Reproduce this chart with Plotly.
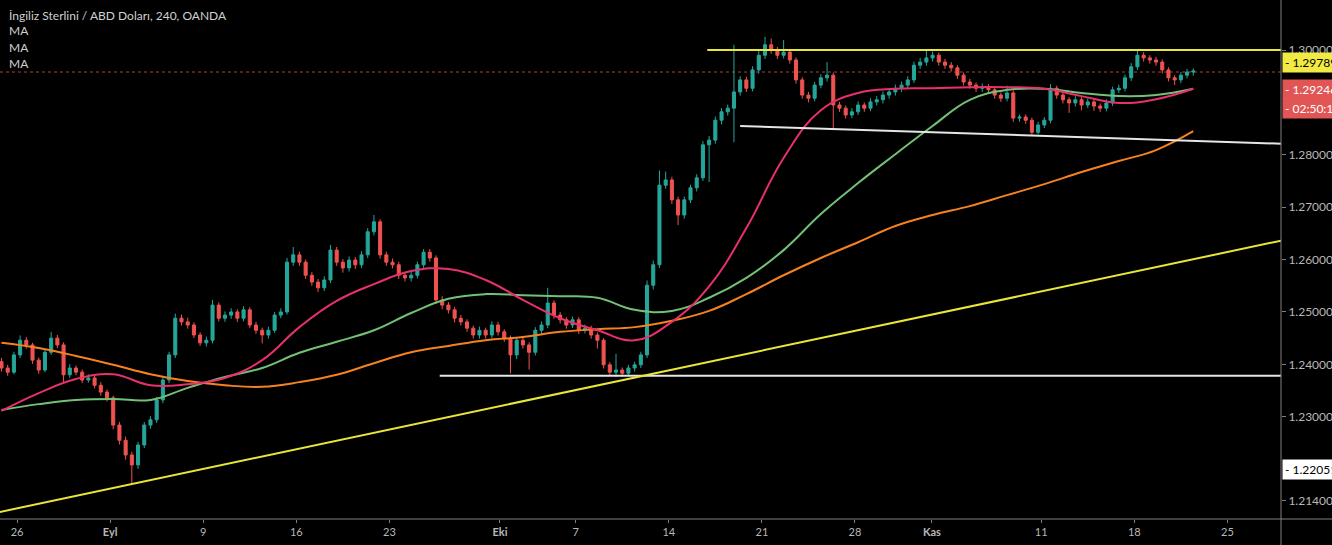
import plotly.graph_objects as go

# ---------------- DATA (GBP/USD, 240, OANDA) ----------------
OPEN = [1.2405,1.2393,1.2385,1.2418,1.2446,1.2437,1.2408,1.2389,1.2423,1.2450,
1.2437,1.2380,1.2393,1.2385,1.2370,1.2374,1.2360,1.2347,1.2336,1.2284,
1.2255,1.2227,1.2208,1.2246,1.2284,1.2294,1.2332,1.2370,1.2418,1.2488,
1.2481,1.2475,1.2456,1.2441,1.2446,1.2513,1.2488,1.2494,1.2500,1.2488,
1.2504,1.2475,1.2465,1.2456,1.2465,1.2494,1.2500,1.2595,1.2609,1.2595,
1.2570,1.2557,1.2546,1.2561,1.2618,1.2595,1.2584,1.2599,1.2590,1.2609,
1.2653,1.2672,1.2609,1.2595,1.2590,1.2570,1.2565,1.2570,1.2590,1.2614,
1.2603,1.2523,1.2513,1.2504,1.2488,1.2481,1.2469,1.2456,1.2465,1.2456,
1.2475,1.2462,1.2450,1.2418,1.2446,1.2437,1.2423,1.2465,1.2475,1.2517,
1.2494,1.2485,1.2475,1.2485,1.2465,1.2469,1.2456,1.2446,1.2399,1.2385,
1.2389,1.2383,1.2393,1.2399,1.2418,1.2551,1.2590,1.2742,1.2752,1.2714,
1.2685,1.2714,1.2737,1.2756,1.2819,1.2828,1.2866,1.2882,1.2889,1.2920,
1.2943,1.2927,1.2962,1.2990,1.3010,1.3000,1.2990,1.2996,1.2981,1.2943,
1.2914,1.2908,1.2933,1.2947,1.2952,1.2895,1.2889,1.2876,1.2882,1.2895,
1.2889,1.2901,1.2905,1.2914,1.2920,1.2927,1.2933,1.2943,1.2971,1.2977,
1.2985,1.2990,1.2977,1.2971,1.2966,1.2952,1.2939,1.2933,1.2927,1.2929,
1.2924,1.2914,1.2908,1.2918,1.2870,1.2872,1.2866,1.2843,1.2857,1.2866,
1.2927,1.2914,1.2905,1.2899,1.2905,1.2895,1.2901,1.2893,1.2889,1.2899,
1.2924,1.2927,1.2947,1.2968,1.2990,1.2985,1.2981,1.2977,1.2962,1.2947,
1.2943,1.2952,1.2958]

CLOSE = [1.2393,1.2385,1.2418,1.2446,1.2437,1.2408,1.2389,1.2423,1.2450,1.2437,
1.2380,1.2393,1.2385,1.2370,1.2374,1.2360,1.2347,1.2336,1.2284,1.2255,
1.2227,1.2208,1.2246,1.2284,1.2294,1.2332,1.2370,1.2418,1.2488,1.2481,
1.2475,1.2456,1.2441,1.2446,1.2513,1.2488,1.2494,1.2500,1.2488,1.2504,
1.2475,1.2465,1.2456,1.2465,1.2494,1.2500,1.2595,1.2609,1.2595,1.2570,
1.2557,1.2546,1.2561,1.2618,1.2595,1.2584,1.2599,1.2590,1.2609,1.2653,
1.2672,1.2609,1.2595,1.2590,1.2570,1.2565,1.2570,1.2590,1.2614,1.2603,
1.2523,1.2513,1.2504,1.2488,1.2481,1.2469,1.2456,1.2465,1.2456,1.2475,
1.2462,1.2450,1.2418,1.2446,1.2437,1.2423,1.2465,1.2475,1.2517,1.2494,
1.2485,1.2475,1.2485,1.2465,1.2469,1.2456,1.2446,1.2399,1.2385,1.2389,
1.2383,1.2393,1.2399,1.2418,1.2551,1.2590,1.2742,1.2752,1.2714,1.2685,
1.2714,1.2737,1.2756,1.2819,1.2828,1.2866,1.2882,1.2889,1.2920,1.2943,
1.2927,1.2962,1.2990,1.3010,1.3000,1.2990,1.2996,1.2981,1.2943,1.2914,
1.2908,1.2933,1.2947,1.2952,1.2895,1.2889,1.2876,1.2882,1.2895,1.2889,
1.2901,1.2905,1.2914,1.2920,1.2927,1.2933,1.2943,1.2971,1.2977,1.2985,
1.2990,1.2977,1.2971,1.2966,1.2952,1.2939,1.2933,1.2927,1.2929,1.2924,
1.2914,1.2908,1.2918,1.2870,1.2872,1.2866,1.2843,1.2857,1.2866,1.2927,
1.2914,1.2905,1.2899,1.2905,1.2895,1.2901,1.2893,1.2889,1.2899,1.2924,
1.2927,1.2947,1.2968,1.2990,1.2985,1.2981,1.2977,1.2962,1.2947,1.2943,
1.2952,1.2958,1.2960]

HIGH = [1.2412,1.2399,1.2424,1.2455,1.2452,1.2441,1.2413,1.2429,1.2462,1.2456,
1.2442,1.2400,1.2398,1.2390,1.2381,1.2379,1.2366,1.2352,1.2340,1.2290,
1.2262,1.2233,1.2252,1.2290,1.2301,1.2338,1.2376,1.2424,1.2497,1.2495,
1.2489,1.2480,1.2461,1.2453,1.2523,1.2518,1.2501,1.2507,1.2505,1.2511,
1.2509,1.2481,1.2470,1.2472,1.2500,1.2507,1.2603,1.2624,1.2615,1.2600,
1.2576,1.2563,1.2568,1.2628,1.2624,1.2601,1.2606,1.2605,1.2616,1.2660,
1.2685,1.2677,1.2615,1.2602,1.2596,1.2576,1.2577,1.2596,1.2620,1.2620,
1.2608,1.2530,1.2519,1.2510,1.2494,1.2486,1.2474,1.2472,1.2470,1.2482,
1.2481,1.2467,1.2455,1.2452,1.2451,1.2442,1.2471,1.2482,1.2546,1.2522,
1.2500,1.2490,1.2491,1.2490,1.2476,1.2474,1.2461,1.2450,1.2404,1.2420,
1.2394,1.2399,1.2405,1.2424,1.2560,1.2598,1.2770,1.2768,1.2758,1.2720,
1.2720,1.2743,1.2763,1.2826,1.2836,1.2873,1.2889,1.2896,1.3010,1.2950,
1.2949,1.2969,1.2998,1.3025,1.3022,1.3006,1.3019,1.3001,1.2986,1.2948,
1.2920,1.2939,1.2954,1.2977,1.2957,1.2901,1.2894,1.2889,1.2902,1.2900,
1.2908,1.2912,1.2921,1.2927,1.2934,1.2940,1.2950,1.2978,1.2985,1.2998,
1.2997,1.2995,1.2983,1.2977,1.2971,1.2957,1.2945,1.2938,1.2936,1.2935,
1.2929,1.2919,1.2932,1.2923,1.2877,1.2877,1.2871,1.2863,1.2872,1.2935,
1.2932,1.2920,1.2910,1.2912,1.2910,1.2908,1.2906,1.2898,1.2906,1.2930,
1.2934,1.2953,1.2975,1.3000,1.2996,1.2990,1.2987,1.2982,1.2967,1.2952,
1.2958,1.2964,1.2965]

LOW = [1.2386,1.2378,1.2381,1.2412,1.2430,1.2401,1.2382,1.2385,1.2418,1.2431,
1.2364,1.2374,1.2379,1.2364,1.2365,1.2354,1.2340,1.2329,1.2276,1.2247,
1.2218,1.2173,1.2200,1.2240,1.2277,1.2288,1.2326,1.2364,1.2412,1.2474,
1.2468,1.2450,1.2435,1.2434,1.2440,1.2482,1.2481,1.2487,1.2481,1.2482,
1.2469,1.2458,1.2440,1.2449,1.2460,1.2488,1.2495,1.2588,1.2588,1.2563,
1.2550,1.2538,1.2540,1.2555,1.2588,1.2575,1.2577,1.2582,1.2584,1.2603,
1.2646,1.2602,1.2588,1.2583,1.2563,1.2558,1.2558,1.2564,1.2584,1.2596,
1.2515,1.2505,1.2497,1.2480,1.2474,1.2462,1.2449,1.2449,1.2449,1.2450,
1.2455,1.2443,1.2383,1.2410,1.2430,1.2390,1.2417,1.2458,1.2469,1.2487,
1.2478,1.2468,1.2469,1.2458,1.2459,1.2449,1.2430,1.2392,1.2378,1.2376,
1.2377,1.2378,1.2386,1.2393,1.2412,1.2543,1.2584,1.2735,1.2706,1.2666,
1.2678,1.2708,1.2730,1.2750,1.2748,1.2821,1.2858,1.2875,1.2824,1.2913,
1.2920,1.2921,1.2955,1.2983,1.2993,1.2983,1.2984,1.2974,1.2936,1.2907,
1.2900,1.2902,1.2927,1.2940,1.2851,1.2882,1.2869,1.2870,1.2876,1.2882,
1.2883,1.2894,1.2898,1.2907,1.2913,1.2920,1.2926,1.2937,1.2964,1.2970,
1.2978,1.2970,1.2964,1.2959,1.2945,1.2932,1.2926,1.2920,1.2920,1.2917,
1.2907,1.2901,1.2902,1.2863,1.2863,1.2859,1.2838,1.2839,1.2851,1.2860,
1.2907,1.2898,1.2880,1.2892,1.2885,1.2889,1.2884,1.2882,1.2883,1.2893,
1.2918,1.2921,1.2941,1.2962,1.2978,1.2974,1.2970,1.2955,1.2940,1.2933,
1.2937,1.2946,1.2951]

# moving averages read at every 6th bar
MA_BAR = [0,6,12,18,24,30,36,42,48,54,60,66,72,78,84,90,96,102,108,114,120,
          126,132,138,144,150,156,162,168,174,180,186,192]
MA_PINK = [1.2311,1.2345,1.2372,1.2381,1.2360,1.2362,1.2374,1.2408,1.2471,1.2521,
           1.2553,1.2578,1.2582,1.2561,1.2523,1.2488,1.2465,1.2446,1.2481,1.2549,
           1.2660,1.2794,1.2885,1.2918,1.2926,1.2927,1.2929,1.2929,1.2926,1.2912,
           1.2899,1.2906,1.2926]
MA_GREEN = [1.2313,1.2324,1.2332,1.2334,1.2332,1.2355,1.2376,1.2393,1.2422,1.2443,
            1.2465,1.2498,1.2525,1.2534,1.2532,1.2530,1.2527,1.2504,1.2502,1.2527,
            1.2565,1.2618,1.2687,1.2746,1.2801,1.2855,1.2905,1.2924,1.2926,1.2918,
            1.2912,1.2914,1.2926]
MA_ORANGE = [1.2441,1.2431,1.2416,1.2399,1.2381,1.2368,1.2360,1.2357,1.2366,1.2380,
             1.2402,1.2423,1.2435,1.2446,1.2452,1.2462,1.2467,1.2471,1.2483,1.2502,
             1.2534,1.2570,1.2603,1.2633,1.2664,1.2685,1.2702,1.2723,1.2744,1.2767,
             1.2788,1.2809,1.2845]

# drawn lines: (bar0, price0, bar1, price1)
YELLOW_TOP = (113.7, 1.3000, 206.5, 1.3000)
WHITE_SLOPE = (119.0, 1.2855, 206.5, 1.2821)
WHITE_FLAT = (70.6, 1.2378, 206.5, 1.2378)
YELLOW_TREND = (-0.3, 1.2118, 206.5, 1.2637)

LAST_PRICE = 1.2958

X_TICK_POS = [2.5, 17.5, 32.5, 47.5, 62.5, 80.3, 92.5, 107.5, 122.5, 137.5, 149.9, 167.5, 182.5, 197.5]
X_TICK_TXT = ['26', '<b>Eyl</b>', '9', '16', '23', '<b>Eki</b>', '7', '14', '21', '28', '<b>Kas</b>', '11', '18', '25']
Y_TICK_POS = [1.31, 1.30, 1.28, 1.27, 1.26, 1.25, 1.24, 1.23, 1.214]
Y_TICK_TXT = ['1.31000', '1.30000', '1.28000', '1.27000', '1.26000', '1.25000', '1.24000', '1.23000', '1.21400']

# ---------------- FIGURE ----------------
W, H = 1332, 545
PW, PH = 1281, 519  # plot area in px
def xp(px):
    return px / PW
def yp(py):
    return 1 - py / PH

FONT = "Lato"
fig = go.Figure()
fig.add_trace(go.Candlestick(
    x=list(range(len(CLOSE))), open=OPEN, high=HIGH, low=LOW, close=CLOSE,
    increasing=dict(line=dict(color='#26a69a', width=1), fillcolor='#26a69a'),
    decreasing=dict(line=dict(color='#ef5350', width=1), fillcolor='#ef5350'),
    whiskerwidth=0, hoverinfo='skip', showlegend=False))

for vals, col in [(MA_ORANGE, '#f5821f'), (MA_GREEN, '#72c176'), (MA_PINK, '#e8306c')]:
    fig.add_trace(go.Scatter(x=MA_BAR, y=vals, mode='lines',
                             line=dict(color=col, width=2, shape='spline', smoothing=1.2),
                             hoverinfo='skip', showlegend=False))

shapes = []
for (x0, y0, x1, y1), col in [(YELLOW_TOP, '#e9e63a'), (WHITE_SLOPE, '#e6e6e6'),
                               (WHITE_FLAT, '#e6e6e6'), (YELLOW_TREND, '#e9e63a')]:
    shapes.append(dict(type='line', xref='x', yref='y', x0=x0, y0=y0, x1=x1, y1=y1,
                       line=dict(color=col, width=2), layer='above'))
# last price dotted line
shapes.append(dict(type='line', xref='paper', yref='y', x0=0, x1=1, y0=LAST_PRICE, y1=LAST_PRICE,
                   line=dict(color='#a8403a', width=1, dash='dot'), layer='below'))
# axis borders
shapes.append(dict(type='line', xref='paper', yref='paper', x0=0, x1=W / PW, y0=0, y1=0,
                   line=dict(color='#808080', width=1)))
shapes.append(dict(type='line', xref='paper', yref='paper', x0=1, x1=1, y0=-(H - PH) / PH, y1=1,
                   line=dict(color='#808080', width=1)))

ann = []
ann.append(dict(xref='paper', yref='paper', x=xp(7), y=yp(15), xanchor='left', yanchor='middle',
                text='İngiliz Sterlini / ABD Doları, 240, OANDA', showarrow=False,
                font=dict(family=FONT, size=12, color='#d0d0d0')))
for py in [31, 47, 63]:
    ann.append(dict(xref='paper', yref='paper', x=xp(7), y=yp(py), xanchor='left', yanchor='middle',
                    text='MA', showarrow=False, font=dict(family=FONT, size=12, color='#d0d0d0')))

def price_box(y, text, bg, fg):
    return dict(xref='paper', yref='y', x=1, y=y, xanchor='left', yanchor='middle', xshift=1,
                text='- ' + text, showarrow=False, bgcolor=bg, width=70, align='left', borderpad=2,
                font=dict(family=FONT, size=12, color=fg))

ann.append(price_box(1.2976, '1.29789', '#f2ea44', '#000000'))
ann.append(price_box(1.2924, '1.29246', '#e25555', '#ffffff'))
ann.append(price_box(1.2889, '02:50:18', '#e25555', '#ffffff'))
ann.append(price_box(1.2200, '1.22051', '#ffffff', '#000000'))

fig.update_layout(
    width=W, height=H, margin=dict(l=0, r=W - PW, t=0, b=H - PH),
    paper_bgcolor='#000000', plot_bgcolor='#000000',
    shapes=shapes, annotations=ann, showlegend=False, hovermode=False,
    xaxis=dict(range=[-0.24, 206.13], showgrid=False, zeroline=False, rangeslider=dict(visible=False),
               tickmode='array', tickvals=X_TICK_POS, ticktext=X_TICK_TXT,
               ticks='outside', ticklen=3, tickcolor='#808080', showline=False,
               tickfont=dict(family=FONT, size=11, color='#b8b8b8'), automargin=False),
    yaxis=dict(range=[1.21047, 1.30955], side='right', showgrid=False, zeroline=False,
               tickmode='array', tickvals=Y_TICK_POS, ticktext=Y_TICK_TXT,
               ticks='outside', ticklen=4, tickcolor='#808080', showline=False,
               tickfont=dict(family=FONT, size=12, color='#b8b8b8'), automargin=False),
)

fig.write_html("out.html")
